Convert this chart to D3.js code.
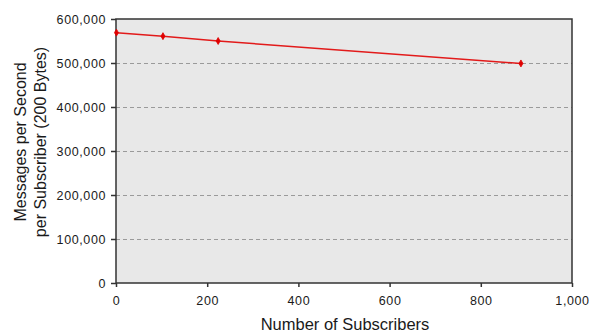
<!DOCTYPE html>
<html>
<head>
<meta charset="utf-8">
<script src="https://cdn.jsdelivr.net/npm/d3@7"></script>
<style>
  body { margin: 0; background: #fff; }
  svg { display: block; font-family: "Liberation Sans", Arial, sans-serif; }
</style>
</head>
<body>
<svg width="589" height="336"></svg>
<script>
const subscribers = [1, 103, 224, 888];
const msgsPerSec = [569000, 561000, 550000, 499000];
const xTicks = [0, 200, 400, 600, 800, 1000];
const yTicks = [0, 100000, 200000, 300000, 400000, 500000, 600000];

const svg = d3.select("svg");
const margin = { top: 19, right: 17, bottom: 53, left: 116 };
const width = +svg.attr("width");
const height = +svg.attr("height");
const innerWidth = width - margin.left - margin.right;
const innerHeight = height - margin.top - margin.bottom;

const x = d3.scaleLinear().domain([0, 1000]).range([0, innerWidth]);
const y = d3.scaleLinear().domain([0, 600000]).range([innerHeight, 0]);
const fmt = d3.format(",");

const g = svg.append("g").attr("transform", `translate(${margin.left},${margin.top})`);

// plot background
g.append("rect")
  .attr("width", innerWidth)
  .attr("height", innerHeight)
  .attr("fill", "#e8e8e8");

// dashed gridlines
g.selectAll(".grid")
  .data(yTicks.filter(d => d > 0 && d < 600000))
  .enter().append("line")
  .attr("x1", 0)
  .attr("x2", innerWidth)
  .attr("y1", d => Math.round(y(d)) + 0.5)
  .attr("y2", d => Math.round(y(d)) + 0.5)
  .attr("stroke", "#9a9a9a")
  .attr("stroke-dasharray", "4,3");

// frame
g.append("rect")
  .attr("width", innerWidth)
  .attr("height", innerHeight)
  .attr("fill", "none")
  .attr("stroke", "#333")
  .attr("stroke-width", 1.5);

const xAxis = g.append("g")
  .attr("transform", `translate(0,${innerHeight})`)
  .call(d3.axisBottom(x).tickValues(xTicks).tickFormat(fmt).tickSize(4).tickPadding(9));

const yAxis = g.append("g")
  .call(d3.axisLeft(y).tickValues(yTicks).tickFormat(fmt).tickSize(5).tickPadding(5));

[xAxis, yAxis].forEach(ax => {
  ax.select(".domain").remove();
  ax.selectAll(".tick line").attr("stroke", "#333").attr("stroke-width", 1.5);
  ax.selectAll("text")
    .attr("fill", "#1a1a1a")
    .style("font-size", "12.5px")
    .style("letter-spacing", "0.6px")
    .style("font-family", "Liberation Sans, Arial, sans-serif");
});

// data line
const pts = subscribers.map((s, i) => ({ s, v: msgsPerSec[i] }));
g.append("path")
  .datum(pts)
  .attr("fill", "none")
  .attr("stroke", "#e21a1a")
  .attr("stroke-width", 1.5)
  .attr("d", d3.line().x(d => x(d.s)).y(d => y(d.v)));

g.selectAll(".pt")
  .data(pts)
  .enter().append("path")
  .attr("transform", d => `translate(${x(d.s)},${y(d.v)})`)
  .attr("d", d3.symbol().type(d3.symbolDiamond).size(14))
  .attr("fill", "#e00000")
  .attr("stroke", "#e00000")
  .attr("stroke-width", 0.8);

// axis titles
svg.append("text")
  .attr("x", 345)
  .attr("y", 330)
  .attr("text-anchor", "middle")
  .attr("fill", "#1a1a1a")
  .style("font-size", "16.5px")
  .text("Number of Subscribers");

const yTitle = svg.append("text")
  .attr("transform", "translate(0,142) rotate(-90)")
  .attr("text-anchor", "middle")
  .attr("fill", "#1a1a1a")
  .style("font-size", "16px");
yTitle.append("tspan").attr("x", 0).attr("y", 26).text("Messages per Second");
yTitle.append("tspan").attr("x", 0).attr("y", 46).text("per Subscriber (200 Bytes)");
</script>
</body>
</html>
